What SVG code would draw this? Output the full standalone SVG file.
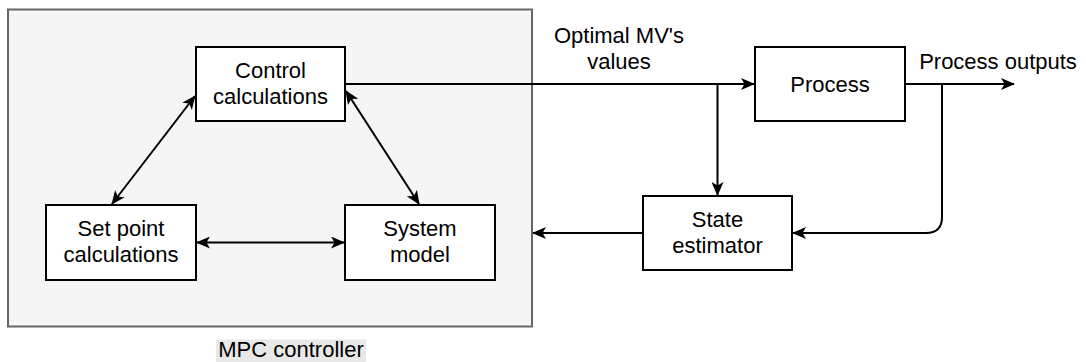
<svg xmlns="http://www.w3.org/2000/svg" width="1086" height="362" viewBox="0 0 1086 362">
<style>
  .box { fill: #ffffff; stroke: #000000; stroke-width: 2; }
  .t { font-family: "Liberation Sans", Arial, Helvetica, sans-serif; font-size: 22px; fill: #000000; text-anchor: middle; }
  .c { fill: none; stroke: #000000; stroke-width: 2; }
</style>
<defs>
  <marker id="ah" viewBox="0 0 14 12" refX="13" refY="6" markerWidth="14" markerHeight="12" markerUnits="userSpaceOnUse" orient="auto-start-reverse">
    <path d="M0,0 L14,6 L0,12 L3.5,6 Z" fill="#000000"/>
  </marker>
</defs>
<rect width="1086" height="362" fill="#ffffff"/>
<g id="mpc-controller">
  <rect x="8" y="9.5" width="524" height="317" fill="#f5f5f5" stroke="#666666" stroke-width="2"/>
  <rect x="216" y="339.5" width="150" height="22.5" fill="#e8e8e8"/>
  <text class="t" x="291" y="357">MPC controller</text>
</g>
<g id="control-calculations">
  <rect class="box" x="196" y="47" width="149" height="74"/>
  <text class="t" x="270.5" y="77.5">Control</text>
  <text class="t" x="270.5" y="103.5">calculations</text>
</g>
<g id="set-point-calculations">
  <rect class="box" x="46" y="205" width="150" height="75"/>
  <text class="t" x="121" y="236">Set point</text>
  <text class="t" x="121" y="262">calculations</text>
</g>
<g id="system-model">
  <rect class="box" x="345" y="205" width="150" height="75"/>
  <text class="t" x="420" y="236">System</text>
  <text class="t" x="420" y="262">model</text>
</g>
<g id="process">
  <rect class="box" x="755" y="47" width="150" height="74"/>
  <text class="t" x="830" y="91.5">Process</text>
</g>
<g id="state-estimator">
  <rect class="box" x="643" y="196" width="149" height="74"/>
  <text class="t" x="717.5" y="226.5">State</text>
  <text class="t" x="717.5" y="252.5">estimator</text>
</g>
<g id="labels">
  <text class="t" x="619" y="43">Optimal MV's</text>
  <text class="t" x="619" y="68.5">values</text>
  <text class="t" x="998" y="68.5">Process outputs</text>
</g>
<g id="connectors">
  <path class="c" d="M112,204 L195,96" marker-start="url(#ah)" marker-end="url(#ah)"/>
  <path class="c" d="M346,91 L419,204" marker-start="url(#ah)" marker-end="url(#ah)"/>
  <path class="c" d="M197,242.5 L344,242.5" marker-start="url(#ah)" marker-end="url(#ah)"/>
  <path class="c" d="M345,84 L754,84" marker-end="url(#ah)"/>
  <path class="c" d="M717.5,84 L717.5,195" marker-end="url(#ah)"/>
  <path class="c" d="M905,84 L1014,84" marker-end="url(#ah)"/>
  <path class="c" d="M942,84 L942,217 Q942,233 926,233 L793,233" marker-end="url(#ah)"/>
  <path class="c" d="M643,233 L533,233" marker-end="url(#ah)"/>
</g>
</svg>
